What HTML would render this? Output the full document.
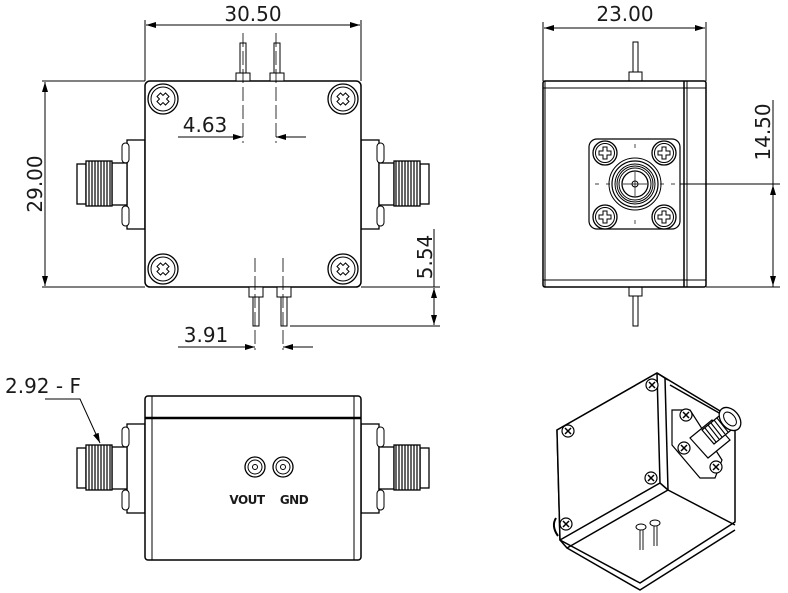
<!DOCTYPE html>
<html><head><meta charset="utf-8"><style>
html,body{margin:0;padding:0;background:#fff;}
svg{display:block;}
text{font-family:"DejaVu Sans","Liberation Sans",sans-serif;fill:#1a1a1a;}
</style></head><body>
<svg width="788" height="593" viewBox="0 0 788 593" xmlns="http://www.w3.org/2000/svg">
<defs>
<marker id="a" viewBox="0 0 10 6" refX="10" refY="3" markerWidth="10" markerHeight="6" orient="auto-start-reverse" markerUnits="userSpaceOnUse"><path d="M0,0L10,3L0,6z" fill="#000"/></marker>
<g id="scr"><circle r="15" fill="#fff" stroke="#000" stroke-width="1.3"/><circle r="12" fill="none" stroke="#000"/>
<path d="M-6,-2.5 L-2.5,-2.5 L-2.5,-6 L2.5,-6 L2.5,-2.5 L6,-2.5 L6,2.5 L2.5,2.5 L2.5,6 L-2.5,6 L-2.5,2.5 L-6,2.5z" fill="none" stroke="#000" transform="rotate(45)"/></g>
<g id="scr2"><circle r="12" fill="#fff" stroke="#000" stroke-width="1.3"/><circle r="9.5" fill="none" stroke="#000"/>
<path d="M-6,-2 L-2,-2 L-2,-6 L2,-6 L2,-2 L6,-2 L6,2 L2,2 L2,6 L-2,6 L-2,2 L-6,2z" fill="none" stroke="#000"/></g>
<g id="scr3"><circle r="6" fill="#fff" stroke="#000" stroke-width="1.2"/><path d="M-3,-3L3,3M-3,3L3,-3" stroke="#000" stroke-width="1.5"/></g>
<g id="conn">
<rect x="127" y="140" width="18" height="89" fill="#fff" stroke="#000" stroke-width="1.3"/>
<rect x="122" y="143" width="7" height="20" rx="3.5" fill="#fff" stroke="#000"/>
<rect x="122" y="206" width="7" height="20" rx="3.5" fill="#fff" stroke="#000"/>
<rect x="112" y="163" width="15" height="42" fill="#fff" stroke="#000" stroke-width="1.3"/>
<rect x="77" y="164" width="9" height="40" fill="#fff" stroke="#000" stroke-width="1.3"/>
<rect x="86" y="161" width="26" height="45" fill="#fff" stroke="#000" stroke-width="1.3"/>
<path d="M89,161V206M92,161V206M95,161V206M98,161V206M101,161V206M104,161V206M107,161V206M110,161V206" stroke="#000" stroke-width="1.2"/>
</g>
</defs>
<g fill="none" stroke="#000" stroke-width="1">
<!-- TOP VIEW -->
<line x1="145" y1="20" x2="145" y2="81"/><line x1="361" y1="20" x2="361" y2="81"/>
<line x1="146" y1="25" x2="360" y2="25" marker-start="url(#a)" marker-end="url(#a)"/>
<line x1="42" y1="81" x2="145" y2="81"/><line x1="42" y1="287" x2="145" y2="287"/>
<line x1="45" y1="82" x2="45" y2="286" marker-start="url(#a)" marker-end="url(#a)"/>
<use href="#conn"/>
<use href="#conn" transform="translate(506,0) scale(-1,1)"/>
<rect x="145" y="81" width="216" height="206" rx="5" fill="#fff" stroke-width="1.5"/>
<use href="#scr" x="163" y="99"/><use href="#scr" x="343" y="99"/>
<use href="#scr" x="163" y="269"/><use href="#scr" x="343" y="269"/>
<rect x="236" y="73" width="14" height="8" fill="#fff"/><rect x="240" y="43" width="6" height="30" fill="#fff"/>
<rect x="270" y="73" width="14" height="8" fill="#fff"/><rect x="274" y="43" width="6" height="30" fill="#fff"/>
<line x1="243" y1="33" x2="243" y2="143" stroke-dasharray="14,4" stroke-width="0.8"/>
<line x1="276" y1="33" x2="276" y2="143" stroke-dasharray="14,4" stroke-width="0.8"/>
<line x1="178" y1="137" x2="243" y2="137" marker-end="url(#a)"/>
<line x1="306" y1="137" x2="276" y2="137" marker-end="url(#a)"/>
<rect x="249" y="287" width="14" height="10" fill="#fff"/><rect x="253" y="297" width="6" height="29" fill="#fff"/>
<rect x="277" y="287" width="14" height="10" fill="#fff"/><rect x="281" y="297" width="6" height="29" fill="#fff"/>
<line x1="255" y1="258" x2="255" y2="350" stroke-dasharray="14,4" stroke-width="0.8"/>
<line x1="283" y1="258" x2="283" y2="350" stroke-dasharray="14,4" stroke-width="0.8"/>
<line x1="178" y1="347" x2="255" y2="347" marker-end="url(#a)"/>
<line x1="313" y1="347" x2="283" y2="347" marker-end="url(#a)"/>
<line x1="361" y1="287" x2="440" y2="287"/><line x1="290" y1="326" x2="440" y2="326"/>
<line x1="434" y1="229" x2="434" y2="287"/>
<line x1="434" y1="310" x2="434" y2="288" marker-end="url(#a)"/>
<line x1="434" y1="305" x2="434" y2="325" marker-end="url(#a)"/>

<!-- RIGHT VIEW -->
<line x1="543" y1="22" x2="543" y2="81"/><line x1="706" y1="22" x2="706" y2="81"/>
<line x1="544" y1="28" x2="705" y2="28" marker-start="url(#a)" marker-end="url(#a)"/>
<rect x="629" y="72" width="13" height="9" fill="#fff"/><rect x="633" y="42" width="5" height="30" fill="#fff"/>
<rect x="629" y="287" width="13" height="9" fill="#fff"/><rect x="633" y="296" width="5" height="30" fill="#fff"/>
<rect x="543" y="81" width="163" height="206" rx="2" fill="#fff" stroke-width="1.5"/>
<line x1="543" y1="88" x2="706" y2="88"/><line x1="543" y1="280" x2="706" y2="280"/>
<line x1="684" y1="81" x2="684" y2="287" stroke-width="1.5"/><line x1="687" y1="81" x2="687" y2="287"/>
<line x1="545" y1="81" x2="545" y2="287"/>
<rect x="589" y="139" width="91" height="90" rx="8" fill="#fff" stroke-width="1.2"/>
<use href="#scr2" x="605" y="153"/><use href="#scr2" x="664" y="153"/>
<use href="#scr2" x="605" y="217"/><use href="#scr2" x="664" y="217"/>
<circle cx="635" cy="184" r="26"/><circle cx="635" cy="184" r="23" stroke-width="1.2"/>
<circle cx="635" cy="184" r="20"/><circle cx="635" cy="184" r="18"/><circle cx="635" cy="184" r="16"/><circle cx="635" cy="184" r="13" stroke-width="1.3"/>
<circle cx="635" cy="184" r="3"/>
<path d="M635,144v4M635,220v4M595,184h4M606,184h4M660,184h4M671,184h4M635,172v24M623,184h24" stroke-width="0.7"/>
<line x1="680" y1="184" x2="780" y2="184"/><line x1="706" y1="287" x2="780" y2="287"/>
<line x1="773" y1="100" x2="773" y2="287"/>
<line x1="773" y1="210" x2="773" y2="185" marker-end="url(#a)"/>
<line x1="773" y1="260" x2="773" y2="286" marker-end="url(#a)"/>

<!-- FRONT VIEW -->
<g transform="translate(0,284)"><use href="#conn"/><use href="#conn" transform="translate(506,0) scale(-1,1)"/></g>
<rect x="145" y="396" width="216" height="164" rx="3" fill="#fff" stroke-width="1.5"/>
<line x1="145" y1="418" x2="361" y2="418" stroke-width="2.5"/>
<line x1="152" y1="396" x2="152" y2="560"/><line x1="354" y1="396" x2="354" y2="560"/>
<circle cx="255" cy="467" r="10" stroke-width="1.3"/><circle cx="255" cy="467" r="7"/><circle cx="255" cy="467" r="2.5"/>
<circle cx="283" cy="467" r="10" stroke-width="1.3"/><circle cx="283" cy="467" r="7"/><circle cx="283" cy="467" r="2.5"/>
<polyline points="45,399 80,399 100,443" marker-end="url(#a)"/>

<!-- ISO VIEW -->
<g stroke-width="1.5" stroke-linejoin="round">
<polygon points="657,373 735,420 735,522 640,583 560,540 557,430" fill="#fff"/>
<polygon points="557,430 657,373 660,483 560,540" fill="#fff"/>
<line x1="657" y1="373" x2="668" y2="380"/>
<line x1="665" y1="378" x2="668" y2="490"/>
<polyline points="660,483 668,490 735,525"/>
<polyline points="560,540 567,548 668,490"/>
<polyline points="567,548 640,590 735,530"/>
<polyline points="670,385 735,422"/>
</g>
<polygon points="672,410 690,410 722,460 715,478 700,478 672,445" fill="#fff" stroke-width="1.2"/>
<path d="M690,438 L712,420 L730,440 L708,458 Z" fill="#fff" stroke-width="1.2"/>
<path d="M702,430 L724,412 L736,426 L714,444 Z" fill="#fff" stroke-width="1.2"/>
<path d="M705,428l11,14M708,425l11,14M711,423l11,14M714,420l11,14M717,418l11,14M720,415l11,14" stroke-width="1.1"/>
<ellipse cx="730" cy="419" rx="9" ry="13" fill="#fff" stroke-width="1.3" transform="rotate(-40 730 419)"/>
<ellipse cx="730" cy="419" rx="5" ry="8" transform="rotate(-40 730 419)"/>
<use href="#scr3" x="686" y="415"/><use href="#scr3" x="684" y="448"/><use href="#scr3" x="716" y="467"/>
<use href="#scr3" x="652" y="385"/><use href="#scr3" x="568" y="431"/><use href="#scr3" x="651" y="478"/><use href="#scr3" x="566" y="524"/>
<path d="M556,518 q-5,8 2,18" stroke-width="2"/>
<ellipse cx="641" cy="527" rx="5" ry="3" fill="#fff"/><ellipse cx="655" cy="523" rx="5" ry="3" fill="#fff"/>
<path d="M640,530v20M643,530v20M654,526v20M657,526v20" stroke-width="0.9"/>
</g>
<g font-size="20">
<text x="253" y="21" text-anchor="middle">30.50</text>
<text x="205" y="132" text-anchor="middle">4.63</text>
<text x="206" y="342" text-anchor="middle">3.91</text>
<text transform="translate(42,184) rotate(-90)" text-anchor="middle">29.00</text>
<text transform="translate(432,257) rotate(-90)" text-anchor="middle">5.54</text>
<text x="625" y="21" text-anchor="middle">23.00</text>
<text transform="translate(770,132) rotate(-90)" text-anchor="middle">14.50</text>
<text x="5" y="393">2.92 - F</text>
</g>
<text x="247" y="504" text-anchor="middle" font-size="12" font-weight="bold" style="letter-spacing:-0.5px">VOUT</text>
<text x="294" y="504" text-anchor="middle" font-size="12" font-weight="bold" style="letter-spacing:-0.5px">GND</text>
</svg>
</body></html>
